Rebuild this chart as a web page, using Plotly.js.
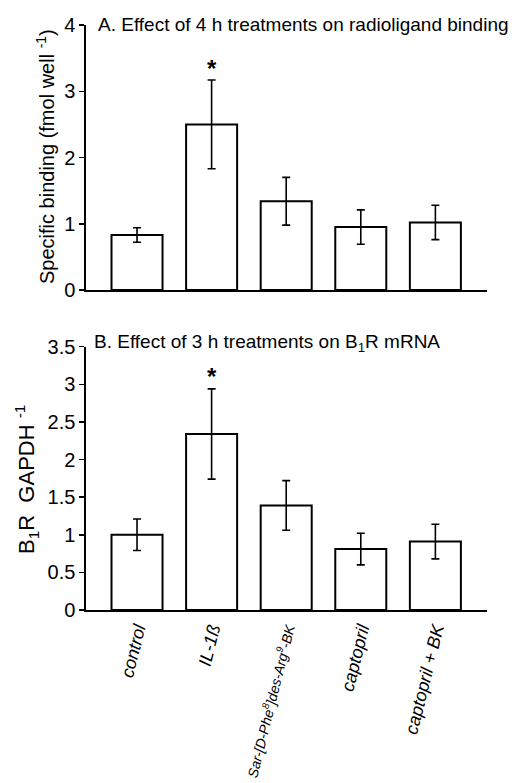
<!DOCTYPE html>
<html>
<head>
<meta charset="utf-8">
<script src="https://cdn.plot.ly/plotly-3.0.1.min.js"></script>
<style>html,body{margin:0;padding:0;background:#fff;}#chart{width:520px;height:783px;}</style>
</head>
<body>
<div id="chart"></div>
<script>
// ---- data ----
const categories = ["control", "IL-1ß", "Sar-[D-Phe8]des-Arg9-BK", "captopril", "captopril + BK"];
const tickLabels = [
  "<i>control</i>",
  "<i>IL-1ß</i>",
  "<span style=\"font-size:14px\"><i>Sar-[D-Phe<sup>8</sup>]des-Arg<sup>9</sup>-BK</i></span>",
  "<i>captopril</i>",
  "<i>captopril + BK</i>"
];
const bindingValues = [0.83, 2.50, 1.34, 0.95, 1.02];
const bindingErrors = [0.11, 0.67, 0.36, 0.26, 0.26];
const mrnaValues = [1.00, 2.34, 1.39, 0.81, 0.91];
const mrnaErrors = [0.21, 0.60, 0.33, 0.21, 0.23];
const significantIndex = 1;
const bindingStarY = 3.35;
const mrnaStarY = 3.10;

// ---- layout helpers ----
const W = 520, H = 783;
const FONT = "Liberation Sans, Arial, sans-serif";
const xIdx = categories.map((c, i) => i);
const barWidth = 0.684;
const xRange = [-0.684, 4.692];
const xDom = [86 / W, 487 / W];
const yDomTop = [1 - 290 / H, 1 - 25 / H];
const yDomBot = [1 - 610 / H, 1 - 346.7 / H];

const barStyle = {color: "#ffffff", line: {color: "#000000", width: 2}};
const errStyle = (arr) => ({type: "data", array: arr, visible: true, color: "#000000", thickness: 1.6, width: 4});

const traces = [
  {type: "bar", x: xIdx, y: bindingValues, width: barWidth, marker: barStyle,
   error_y: errStyle(bindingErrors), xaxis: "x", yaxis: "y", showlegend: false, hoverinfo: "skip"},
  {type: "bar", x: xIdx, y: mrnaValues, width: barWidth, marker: barStyle,
   error_y: errStyle(mrnaErrors), xaxis: "x2", yaxis: "y2", showlegend: false, hoverinfo: "skip"}
];

const edgeVals = [];
xIdx.forEach(i => { edgeVals.push(i - barWidth / 2, i + barWidth / 2); });

const yCommon = {
  showline: true, linecolor: "#000", linewidth: 1.6, ticks: "outside", ticklen: 5, tickwidth: 1.5,
  tickcolor: "#000", showgrid: false, zeroline: false, tickfont: {family: FONT, size: 20, color: "#000"},
  fixedrange: true
};

const layout = {
  width: W, height: H,
  margin: {l: 0, r: 0, t: 0, b: 0},
  paper_bgcolor: "#fff", plot_bgcolor: "#fff",
  font: {family: FONT, color: "#000"},
  showlegend: false,
  xaxis: {domain: xDom, range: xRange, anchor: "y", showline: true, linecolor: "#000", linewidth: 1.6,
          showticklabels: false, ticks: "", showgrid: false, zeroline: false, fixedrange: true},
  yaxis: Object.assign({}, yCommon, {domain: yDomTop, range: [0, 4], tickvals: [0, 1, 2, 3, 4], anchor: "x"}),
  xaxis2: {domain: xDom, range: xRange, anchor: "y2", showline: true, linecolor: "#000", linewidth: 1.6,
           tickmode: "array", tickvals: xIdx, ticktext: tickLabels, ticks: "", tickangle: -76,
           tickfont: {family: FONT, size: 18, color: "#000"}, showgrid: false, zeroline: false, fixedrange: true},
  xaxis3: {domain: xDom, range: xRange, anchor: "y2", overlaying: "x2", showline: false,
           tickmode: "array", tickvals: edgeVals, ticks: "outside", ticklen: 10, tickwidth: 1.5, tickcolor: "#000",
           showticklabels: false, showgrid: false, zeroline: false, fixedrange: true},
  yaxis2: Object.assign({}, yCommon, {domain: yDomBot, range: [0, 3.5], tickvals: [0, 0.5, 1, 1.5, 2, 2.5, 3, 3.5],
           ticktext: ["0", "0.5", "1", "1.5", "2", "2.5", "3", "3.5"], anchor: "x2"}),
  annotations: [
    {text: "A. Effect of 4 h treatments on radioligand binding", xref: "paper", yref: "paper",
     x: 96 / W, y: 1 - 25 / H, xanchor: "left", yanchor: "middle", showarrow: false,
     font: {family: FONT, size: 19, color: "#000"}},
    {text: "B. Effect of 3 h treatments on B<sub>1</sub>R mRNA", xref: "paper", yref: "paper",
     x: 92 / W, y: 1 - 343 / H, xanchor: "left", yanchor: "middle", showarrow: false,
     font: {family: FONT, size: 19, color: "#000"}},
    {text: "Specific binding (fmol well <sup>-1</sup>)", xref: "paper", yref: "paper",
     x: 45 / W, y: 1 - 157 / H, xanchor: "center", yanchor: "middle", textangle: -90, showarrow: false,
     font: {family: FONT, size: 20, color: "#000"}},
    {text: "B<sub>1</sub>R  GAPDH <sup>-1</sup>", xref: "paper", yref: "paper",
     x: 27 / W, y: 1 - 480 / H, xanchor: "center", yanchor: "middle", textangle: -90, showarrow: false,
     font: {family: FONT, size: 22, color: "#000"}},
    {text: "<b>*</b>", xref: "x", yref: "y", x: significantIndex, y: bindingStarY, showarrow: false,
     xanchor: "center", yanchor: "middle", font: {family: FONT, size: 24, color: "#000"}},
    {text: "<b>*</b>", xref: "x2", yref: "y2", x: significantIndex, y: mrnaStarY, showarrow: false,
     xanchor: "center", yanchor: "middle", font: {family: FONT, size: 24, color: "#000"}}
  ]
};

Plotly.newPlot("chart", traces, layout, {displayModeBar: false, staticPlot: true});
</script>
</body>
</html>
